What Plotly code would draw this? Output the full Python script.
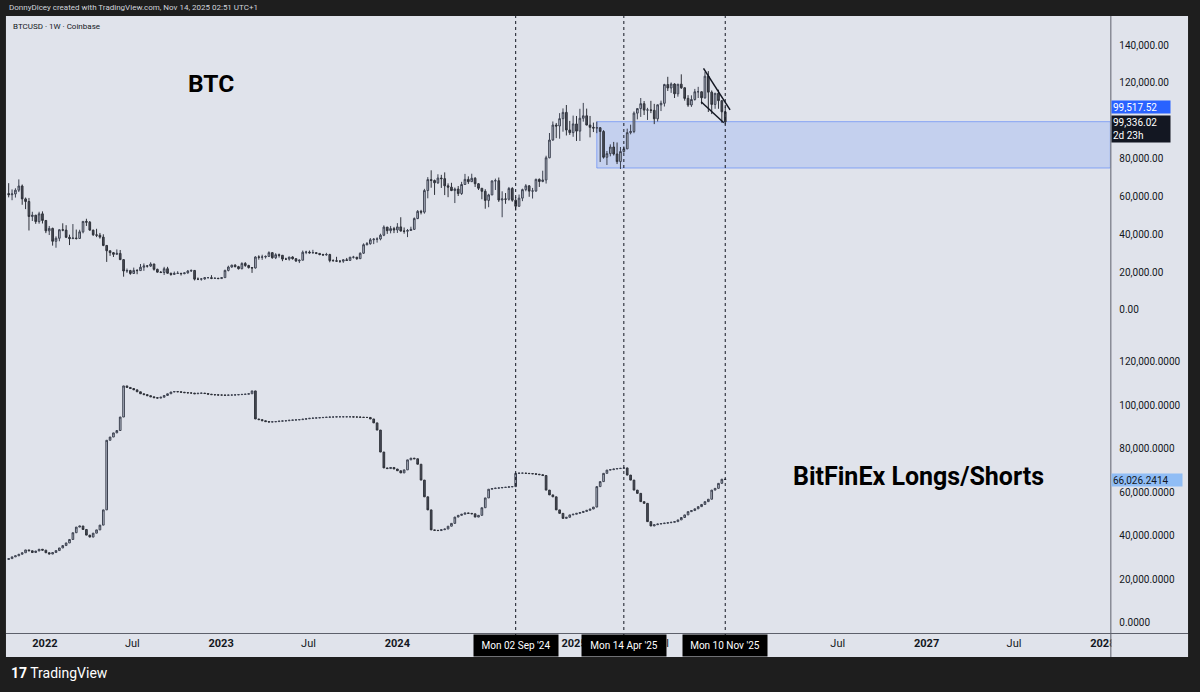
import plotly.graph_objects as go
import pandas as pd

# ---------------- data (values in thousands of USD) ----------------
first_week = "2021-10-18"   # Monday of the first weekly candle

btc_first_open_k = 61.5
btc_close_k = [
    60.9, 61.3, 63.3, 65.5, 58.7, 57.3, 49.4, 50.1, 46.7, 50.8,
    47.3, 41.8, 43.1, 36.3, 37.9, 42.4, 42.2, 38.4, 37.7, 38.0,
    37.8, 41.3, 46.8, 46.4, 42.2, 39.7, 39.5, 38.5, 34.1, 31.3,
    30.3, 29.4, 29.9, 26.6, 20.6, 20.8, 19.3, 20.9, 20.8, 22.6,
    23.3, 23.2, 24.3, 21.5, 20.0, 19.8, 21.8, 19.4, 18.8, 19.3,
    19.4, 19.2, 19.6, 20.6, 20.9, 16.3, 16.3, 16.4, 17.1, 17.1,
    16.7, 16.8, 16.6, 17.1, 20.9, 22.7, 23.7, 22.9, 21.8, 24.6,
    23.5, 22.4, 22.2, 28.0, 27.9, 28.0, 28.3, 30.3, 27.6, 29.2,
    28.9, 26.9, 26.9, 28.0, 27.1, 25.9, 26.3, 30.5, 30.6, 30.2,
    30.3, 29.9, 29.3, 29.1, 29.3, 26.1, 26.0, 25.8, 25.8, 26.5,
    26.2, 27.9, 27.9, 27.1, 30.0, 34.5, 35.0, 37.1, 37.4, 37.5,
    39.5, 43.8, 41.9, 43.0, 42.3, 43.9, 41.7, 41.6, 42.0, 42.6,
    48.3, 52.1, 51.7, 63.1, 68.9, 68.4, 67.2, 69.7, 69.4, 65.6,
    64.9, 63.1, 63.9, 61.5, 66.3, 69.0, 67.8, 69.6, 66.7, 64.3,
    62.7, 57.9, 60.8, 68.2, 68.3, 58.1, 58.7, 58.5, 64.2, 58.0,
    54.8, 59.1, 63.6, 65.6, 62.8, 62.9, 69.0, 67.9, 68.7, 80.4,
    89.8, 97.7, 97.2, 101.1, 104.4, 95.1, 93.7, 98.3, 94.5, 101.3,
    102.6, 97.7, 96.5, 96.1, 96.3, 94.3, 80.7, 82.6, 86.1, 82.4,
    78.4, 83.7, 85.1, 93.7, 94.3, 104.0, 106.4, 109.0, 105.6, 105.7,
    105.5, 101.0, 108.4, 109.2, 119.1, 117.3, 119.4, 114.2, 119.3, 117.4,
    111.8, 108.3, 111.2, 115.3, 115.3, 112.1, 123.5, 115.1, 108.6, 114.5,
    110.6, 104.7, 99.336,
]
btc_high_k = [
    67.0, 63.7, 64.3, 69.0, 66.3, 59.4, 59.2, 51.9, 50.2, 51.9,
    52.1, 47.5, 44.4, 43.5, 38.9, 42.6, 45.8, 44.8, 39.8, 45.4,
    42.5, 42.4, 46.9, 48.2, 47.0, 42.4, 42.9, 40.7, 40.0, 34.3,
    31.3, 30.6, 32.0, 31.7, 26.9, 21.9, 21.2, 22.4, 21.6, 24.3,
    24.6, 23.6, 25.2, 24.4, 21.8, 20.6, 22.8, 22.8, 19.7, 20.3,
    20.5, 19.5, 19.7, 21.1, 21.4, 21.1, 17.2, 16.8, 17.4, 17.4,
    18.4, 17.1, 16.9, 17.2, 21.3, 23.4, 23.9, 24.2, 23.3, 25.2,
    25.3, 23.9, 22.6, 28.4, 28.9, 29.2, 28.8, 31.0, 30.5, 30.0,
    29.8, 28.9, 27.6, 28.0, 28.4, 27.4, 26.7, 31.4, 31.3, 31.4,
    31.8, 30.4, 29.9, 29.7, 30.2, 29.7, 26.8, 28.1, 26.1, 26.8,
    27.5, 28.0, 28.6, 28.0, 30.4, 35.2, 35.9, 38.0, 38.0, 38.4,
    40.3, 44.7, 43.4, 44.4, 43.9, 45.9, 49.0, 43.6, 42.8, 44.0,
    48.9, 52.8, 52.9, 64.0, 70.2, 73.8, 68.9, 71.7, 71.4, 72.7,
    66.9, 67.2, 64.7, 65.5, 67.7, 71.9, 70.6, 72.0, 70.2, 67.0,
    64.3, 63.8, 61.4, 68.4, 69.4, 70.0, 62.7, 61.8, 65.0, 64.9,
    59.8, 61.0, 64.1, 66.5, 65.9, 64.5, 69.4, 69.5, 73.6, 81.5,
    93.5, 99.6, 98.8, 104.0, 106.5, 108.3, 99.9, 102.7, 102.5, 106.3,
    109.4, 106.4, 102.5, 99.0, 99.5, 96.5, 95.0, 84.0, 87.5, 88.8,
    88.5, 86.1, 86.4, 95.8, 97.9, 104.9, 106.5, 112.0, 110.4, 106.8,
    110.5, 108.9, 108.5, 110.6, 119.5, 123.2, 120.2, 119.8, 119.4, 124.5,
    117.6, 113.5, 113.4, 116.8, 117.9, 115.5, 125.7, 126.2, 116.0, 114.6,
    116.4, 110.7, 107.5,
]
btc_low_k = [
    59.5, 58.0, 59.4, 62.3, 55.6, 53.3, 42.0, 47.0, 45.5, 45.6,
    45.7, 40.6, 39.6, 34.0, 32.9, 36.3, 41.6, 38.0, 34.3, 37.5,
    37.2, 37.6, 40.5, 44.4, 41.9, 39.2, 38.5, 37.7, 33.7, 25.4,
    28.6, 28.0, 29.3, 26.6, 17.6, 19.6, 18.6, 19.0, 18.9, 20.8,
    20.7, 22.4, 22.7, 20.8, 19.8, 19.5, 18.5, 19.3, 18.1, 18.5,
    19.2, 18.2, 18.9, 19.2, 20.1, 15.6, 15.8, 15.5, 16.0, 16.7,
    16.3, 16.4, 16.3, 16.5, 17.1, 20.4, 22.3, 22.5, 21.4, 21.5,
    22.8, 21.9, 19.6, 21.9, 26.6, 26.5, 27.2, 28.2, 27.1, 26.9,
    27.7, 25.8, 26.4, 26.1, 26.6, 25.4, 24.8, 26.3, 29.5, 29.8,
    29.9, 29.5, 28.9, 28.6, 28.7, 25.2, 25.8, 25.4, 24.9, 24.9,
    26.0, 26.0, 27.2, 26.5, 27.0, 29.6, 34.1, 34.5, 34.8, 35.6,
    36.8, 39.0, 40.2, 40.5, 40.6, 40.7, 41.5, 40.3, 38.5, 41.8,
    42.3, 48.0, 50.5, 50.9, 59.0, 64.6, 60.8, 66.6, 64.5, 60.7,
    59.6, 62.8, 56.5, 60.2, 60.8, 66.3, 66.6, 67.7, 65.0, 63.4,
    58.5, 53.5, 54.3, 60.7, 63.4, 57.1, 49.0, 56.1, 57.8, 57.2,
    52.5, 54.6, 57.5, 62.7, 59.8, 58.9, 62.4, 65.0, 67.5, 66.8,
    80.2, 89.4, 90.8, 90.5, 94.2, 92.2, 92.5, 91.5, 89.3, 89.3,
    99.5, 97.6, 91.2, 94.0, 93.4, 78.2, 80.0, 76.6, 81.2, 81.6,
    77.1, 74.5, 83.1, 85.1, 92.8, 93.4, 100.7, 102.0, 103.0, 100.4,
    104.0, 98.2, 99.6, 105.1, 107.5, 115.7, 114.7, 112.0, 112.7, 116.8,
    110.6, 107.3, 107.3, 110.6, 112.0, 108.7, 111.6, 104.6, 103.5, 106.3,
    106.3, 98.9, 98.0,
]

ls_first_open_k = 29.2
ls_close_k = [
    29.6, 30.4, 30.9, 31.6, 32.3, 33.6, 33.2, 32.4, 33.1, 33.9,
    33.5, 32.3, 31.7, 32.4, 33.3, 34.5, 35.6, 36.8, 38.4, 41.5,
    44.1, 44.6, 43.0, 40.4, 39.5, 41.3, 42.8, 45.0, 52.0, 84.0,
    85.5, 87.4, 88.5, 94.7, 109.0, 108.3, 107.8, 107.2, 106.3, 105.4,
    105.0, 104.5, 104.0, 103.6, 103.4, 103.8, 104.6, 105.4, 106.2, 106.4,
    106.3, 106.1, 105.9, 105.8, 105.7, 105.4, 105.6, 105.7, 105.5, 105.2,
    105.0, 104.9, 104.8, 104.8, 104.7, 104.8, 104.8, 104.9, 105.0, 105.1,
    105.2, 105.4, 106.7, 93.8, 93.5, 93.0, 92.6, 92.4, 92.5, 92.6,
    92.8, 92.9, 93.0, 93.2, 93.3, 93.4, 93.5, 93.7, 93.9, 94.1,
    94.2, 94.3, 94.4, 94.5, 94.6, 94.7, 94.7, 94.8, 94.8, 94.8,
    94.8, 94.8, 94.7, 94.7, 94.6, 94.5, 94.5, 93.8, 92.0, 88.7,
    78.6, 71.3, 71.0, 71.5, 70.8, 70.0, 69.0, 70.4, 75.0, 75.8,
    75.5, 73.0, 65.7, 58.0, 52.0, 42.8, 42.6, 42.5, 42.9, 43.2,
    44.5, 45.8, 48.7, 49.5, 50.0, 50.6, 50.4, 50.2, 48.7, 49.5,
    53.0, 57.5, 61.5, 61.8, 62.0, 62.1, 62.3, 62.4, 62.6, 62.7,
    68.8, 68.9, 68.9, 68.8, 68.7, 68.6, 68.4, 68.2, 67.8, 61.1,
    58.9, 58.0, 52.0, 50.4, 48.1, 48.6, 49.7, 50.0, 50.4, 50.8,
    51.3, 51.8, 52.4, 53.3, 62.7, 65.0, 68.8, 70.3, 70.5, 70.8,
    71.0, 71.1, 71.3, 68.0, 65.7, 61.1, 59.6, 55.8, 55.0, 46.6,
    44.6, 45.2, 45.5, 45.7, 45.9, 46.1, 46.3, 46.6, 47.4, 48.5,
    49.7, 51.2, 51.7, 52.5, 53.5, 54.5, 55.8, 56.9, 61.1, 61.9,
    64.2, 66.1, 66.026,
]

marker_dates = ["2024-09-02", "2025-04-14", "2025-11-10"]
marker_labels = ["Mon 02 Sep '24", "Mon 14 Apr '25", "Mon 10 Nov '25"]

# time-scale ticks (the ones fully hidden under the date boxes are left out)
time_tick_dates = ["2022-01-01", "2022-07-01", "2023-01-01", "2023-07-01",
                   "2024-01-01", "2025-01-01", "2025-07-01",
                   "2026-07-01", "2027-01-01", "2027-07-01", "2028-01-01"]
time_tick_labels = ["2022", "Jul", "2023", "Jul", "2024", "2025", "Jul",
                    "Jul", "2027", "Jul", "2028"]

zone_start = "2025-02-17"
zone_low, zone_high = 75000, 99500
wedge_upper = [("2025-09-26", 127700), ("2025-11-20", 105700)]
wedge_lower = [("2025-09-21", 110000), ("2025-11-07", 98900)]

btc_label_value = "99,336.02"
btc_countdown = "2d 23h"
zone_label_value = "99,517.52"
ls_label_value = "66,026.2414"

# ---------------- derived ----------------
weeks = pd.date_range(first_week, periods=len(btc_close_k), freq="7D")
btc_open = [v * 1000 for v in [btc_first_open_k] + btc_close_k[:-1]]
btc_close = [v * 1000 for v in btc_close_k]
btc_high = [max(v * 1000, o, c) for v, o, c in zip(btc_high_k, btc_open, btc_close)]
btc_low = [min(v * 1000, o, c) for v, o, c in zip(btc_low_k, btc_open, btc_close)]

ls_open = [v * 1000 for v in [ls_first_open_k] + ls_close_k[:-1]]
ls_close = [v * 1000 for v in ls_close_k]
ls_high = [max(o, c) for o, c in zip(ls_open, ls_close)]
ls_low = [min(o, c) for o, c in zip(ls_open, ls_close)]

W, H = 1200, 692
def px(xp): return xp / W
def py(yp): return 1 - yp / H

BG = "#e0e3eb"
FRAME = "#1e1e1e"
INK = "#131722"
FONT = "Roboto"

x_range = ["2021-10-12 10:00", "2028-01-16 14:00"]

candle_style = dict(
    increasing=dict(line=dict(color="#3d4250", width=1), fillcolor="#bcc3d1"),
    decreasing=dict(line=dict(color="#2e3139", width=1), fillcolor="#4b4f5a"),
    hoverinfo="skip", showlegend=False, whiskerwidth=0,
)

fig = go.Figure()
fig.add_trace(go.Candlestick(x=weeks, open=btc_open, high=btc_high, low=btc_low,
                             close=btc_close, xaxis="x", yaxis="y", **candle_style))
fig.add_trace(go.Candlestick(x=weeks, open=ls_open, high=ls_high, low=ls_low,
                             close=ls_close, xaxis="x2", yaxis="y2", **candle_style))

x_dom = [px(6), px(1115)]
top_dom = [py(336), py(16)]
bot_dom = [py(633), py(336)]

fig.update_layout(
    width=W, height=H, margin=dict(l=0, r=0, t=0, b=0),
    paper_bgcolor=FRAME, plot_bgcolor=BG, showlegend=False,
    font=dict(family=FONT, color=INK),
    xaxis=dict(domain=x_dom, anchor="y", range=x_range, showticklabels=False,
               showgrid=False, zeroline=False, showline=False,
               rangeslider=dict(visible=False), type="date"),
    xaxis2=dict(domain=x_dom, anchor="y2", range=x_range, matches="x",
                showgrid=False, zeroline=False, showline=False,
                rangeslider=dict(visible=False), type="date",
                tickvals=time_tick_dates,
                ticktext=[f"<b>{t}</b>" if t.isdigit() else t for t in time_tick_labels],
                tickfont=dict(size=11, color=INK, family=FONT), ticks="",
                ticklabelstandoff=2),
    yaxis=dict(domain=top_dom, anchor="x", side="right", range=[-13740, 155320],
               tickvals=[0, 20000, 40000, 60000, 80000, 100000, 120000, 140000],
               tickformat=",.2f", showgrid=False, zeroline=False, showline=False,
               ticks="outside", ticklen=6, tickcolor="rgba(0,0,0,0)",
               tickfont=dict(size=10, color=INK, family=FONT)),
    yaxis2=dict(domain=bot_dom, anchor="x2", side="right", range=[-4600, 131950],
                tickvals=[0, 20000, 40000, 60000, 80000, 100000, 120000],
                tickformat=",.4f", showgrid=False, zeroline=False, showline=False,
                ticks="outside", ticklen=6, tickcolor="rgba(0,0,0,0)",
                tickfont=dict(size=10, color=INK, family=FONT)),
)

shapes = []
# light chart panel
shapes.append(dict(type="rect", xref="paper", yref="paper", x0=px(6), x1=px(1193),
                   y0=py(657), y1=py(16), fillcolor=BG, line=dict(width=0), layer="below"))
# support zone
shapes.append(dict(type="rect", xref="x", yref="y", x0=zone_start, x1=x_range[1],
                   y0=zone_low, y1=zone_high, fillcolor="rgba(41,98,255,0.15)",
                   line=dict(color="rgba(41,98,255,0.45)", width=1), layer="below"))
# wedge
for (a, b) in (wedge_upper, wedge_lower):
    shapes.append(dict(type="line", xref="x", yref="y", x0=a[0], y0=a[1], x1=b[0], y1=b[1],
                       line=dict(color=INK, width=1.5), layer="above"))
# vertical date markers
for d in marker_dates:
    shapes.append(dict(type="line", xref="x", yref="paper", x0=d, x1=d,
                       y0=py(636), y1=py(16), line=dict(color=INK, width=1, dash="dot"),
                       layer="above"))
# cover of clipped tick under price scale
shapes.append(dict(type="rect", xref="paper", yref="paper", x0=px(1116), x1=px(1193),
                   y0=py(657), y1=py(634), fillcolor=BG, line=dict(width=0), layer="above"))
# scale separators
shapes.append(dict(type="line", xref="paper", yref="paper", x0=px(1115.5), x1=px(1115.5),
                   y0=py(657), y1=py(16), line=dict(color="#5d606b", width=1), layer="above"))
shapes.append(dict(type="line", xref="paper", yref="paper", x0=px(6), x1=px(1193),
                   y0=py(633.5), y1=py(633.5), line=dict(color="#5d606b", width=1), layer="above"))
fig.update_layout(shapes=shapes)

ann = []
ann.append(dict(text="DonnyDicey created with TradingView.com, Nov 14, 2025 02:51 UTC+1",
                xref="paper", yref="paper", x=px(7), y=py(8), xanchor="left", yanchor="middle",
                showarrow=False, font=dict(size=8, color="#d1d4dc", family=FONT)))
ann.append(dict(text="BTCUSD · 1W · Coinbase", xref="paper", yref="paper", x=px(11), y=py(26),
                xanchor="left", yanchor="middle", showarrow=False,
                font=dict(size=8, color=INK, family=FONT)))
ann.append(dict(text="<b>BTC</b>", xref="paper", yref="paper", x=px(212), y=py(83),
                xanchor="center", yanchor="middle", showarrow=False,
                font=dict(size=24.5, color="#000000", family=FONT)))
ann.append(dict(text="<b>BitFinEx Longs/Shorts</b>", xref="paper", yref="paper",
                x=px(922), y=py(476), xanchor="center", yanchor="middle", showarrow=False,
                font=dict(size=25, color="#000000", family=FONT)))
ann.append(dict(text="<b>17</b> TradingView", xref="paper", yref="paper", x=px(9), y=py(673),
                xanchor="left", yanchor="middle", showarrow=False,
                font=dict(size=14, color="#ffffff", family=FONT)))
for d, lab in zip(marker_dates, marker_labels):
    ann.append(dict(text=lab, xref="x2", yref="paper", x=d, y=py(645.5), xanchor="center",
                    yanchor="middle", showarrow=False, bgcolor="#000000", borderpad=3,
                    width=78, height=15, font=dict(size=10, color="#ffffff", family=FONT)))
# price scale labels
ann.append(dict(text=zone_label_value, xref="paper", yref="paper", x=px(1115.5), y=py(106.5),
                xanchor="left", yanchor="middle", showarrow=False, bgcolor="#2962ff",
                borderpad=1, width=56, height=10, align="left",
                font=dict(size=10, color="#ffffff", family=FONT)))
ann.append(dict(text=f"{btc_label_value}<br>{btc_countdown}", xref="paper", yref="paper",
                x=px(1115.5), y=py(129), xanchor="left", yanchor="middle", showarrow=False,
                bgcolor="#131722", borderpad=1, width=56, height=24, align="left",
                font=dict(size=10, color="#ffffff", family=FONT)))
ann.append(dict(text=ls_label_value, xref="paper", yref="paper", x=px(1115.5), y=py(480),
                xanchor="left", yanchor="middle", showarrow=False, bgcolor="#90bdf5",
                borderpad=1, width=68, height=10, align="left",
                font=dict(size=10, color=INK, family=FONT)))
fig.update_layout(annotations=ann)

fig.write_html("out.html", config={"displayModeBar": False},
               post_script="document.body.style.margin='0';document.body.style.background='#1e1e1e';")
